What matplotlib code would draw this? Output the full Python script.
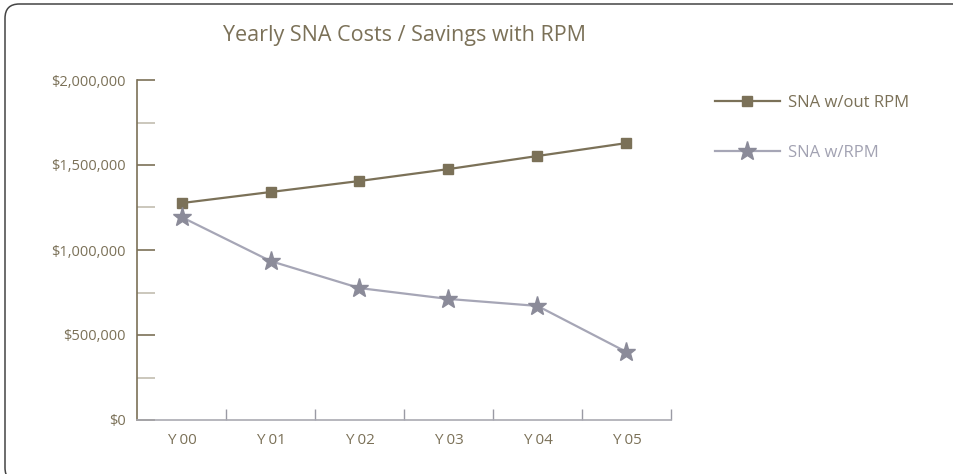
import matplotlib.pyplot as plt
import numpy as np
from matplotlib.patches import FancyBboxPatch
from matplotlib.ticker import FuncFormatter, MultipleLocator

plt.rcParams['font.family'] = ['Open Sans', 'DejaVu Sans']

years = ['Y 00', 'Y 01', 'Y 02', 'Y 03', 'Y 04', 'Y 05']
without_rpm = [1276000, 1341000, 1406000, 1476000, 1553000, 1629000]
with_rpm = [1194000, 935000, 776000, 712000, 671000, 400000]

BROWN = '#7b7158'
GREY = '#8b8b99'
GREY_LINE = '#a6a6b6'
TEXT = '#7b7158'

W, H = 954, 474
fig = plt.figure(figsize=(W / 100, H / 100), dpi=100)

# frame: rounded box that runs off the right and bottom edges of the picture
frame = FancyBboxPatch((5 / W, -8 / H), 980 / W, (H - 4 + 8) / H,
                       boxstyle='round,pad=0,rounding_size=0.015',
                       transform=fig.transFigure, fill=False, edgecolor='#444444', linewidth=1.1,
                       mutation_aspect=W / H, clip_on=False)
fig.patches.append(frame)

ax = fig.add_axes([137 / W, 1 - 420 / H, 534 / W, 340 / H])
x = np.arange(len(years))

ax.plot(x, without_rpm, color=BROWN, lw=1.6, marker='s', ms=6.5, mfc=BROWN, mec=BROWN,
        label='SNA w/out RPM')
ax.plot(x, with_rpm, color=GREY_LINE, lw=1.6, marker='*', ms=14, mfc=GREY, mec=GREY,
        label='SNA w/RPM')

ax.set_xlim(-0.5, len(years) - 0.5)
ax.set_ylim(0, 2000000)

for s in ['top', 'right']:
    ax.spines[s].set_visible(False)
ax.spines['left'].set_color(BROWN)
ax.spines['left'].set_linewidth(1.2)
ax.spines['bottom'].set_color('#aaaab2')
ax.spines['bottom'].set_linewidth(1.2)

ax.yaxis.set_major_locator(MultipleLocator(500000))
ax.yaxis.set_minor_locator(MultipleLocator(250000))
ax.yaxis.set_major_formatter(FuncFormatter(lambda v, p: '${:,.0f}'.format(v)))
ax.tick_params(axis='y', which='major', direction='in', length=13, width=1.2, color=BROWN,
               labelcolor=TEXT, labelsize=10.5, pad=8)
ax.tick_params(axis='y', which='minor', direction='in', length=13, width=1.2, color='#c2bdb0')

# category labels in the middle, tick marks at the boundaries
ax.set_xticks(x)
ax.set_xticklabels(years)
ax.set_xticks(np.arange(0.5, len(years)), minor=True)
ax.tick_params(axis='x', which='major', length=0, labelcolor=TEXT, labelsize=11, pad=9)
ax.tick_params(axis='x', which='minor', direction='in', length=8, width=1.0, color='#9a9aa4')

fig.text(405 / W, 1 - 35 / H, 'Yearly SNA Costs / Savings with RPM', ha='center', va='center',
         fontsize=15.5, color=TEXT)

leg = ax.legend(loc='upper left', bbox_to_anchor=(700 / W, 1 - 80 / H), bbox_transform=fig.transFigure,
                frameon=False, fontsize=12, handlelength=3.9, labelspacing=2.05, handletextpad=0.5)
for t, c in zip(leg.get_texts(), [TEXT, '#a2a2b2']):
    t.set_color(c)

fig.savefig('out.png', dpi=100)
